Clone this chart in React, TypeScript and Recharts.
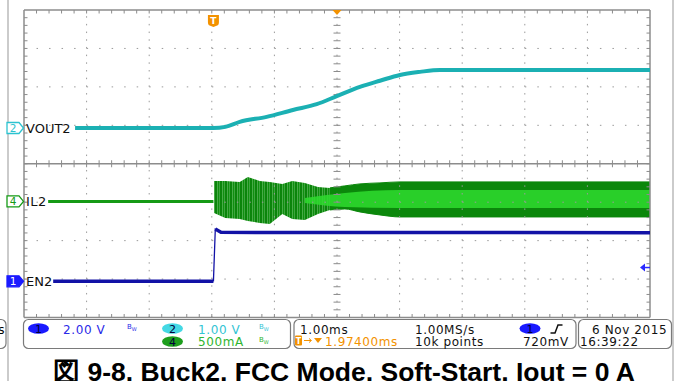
import React from 'react';
import { ComposedChart, Line, Area, XAxis, YAxis, ReferenceLine, ReferenceDot } from 'recharts';

// Scope timebase: 1 ms/div, 10 divisions, trigger at t = 0, centre at +1.974 ms
const T_START = -3.026;
const T_END = 6.974;
const T_CENTER = 1.974;
const H_DIVS = 10;
const V_DIVS = 8;

// channel ground markers (divisions above bottom edge) and scales (per div)
const CH1_POS = 0.94; // EN2
const CH1_SCALE = 2.0; // V/div
const CH2_POS = 4.93; // VOUT2
const CH2_SCALE = 1.0; // V/div
const CH4_POS = 3.02; // IL2
const CH4_SCALE = 0.5; // A/div
const TRIG_LEVEL = 0.72; // V, ch1

// VOUT2 (V)
const voutTime = [-2.21, 0, 0.19, 0.42, 0.85, 1.27, 1.65, 1.97, 2.34, 2.66, 2.98, 3.3, 3.62, 6.974];
const voutVolts = [0, 0, 0.03, 0.16, 0.29, 0.47, 0.62, 0.83, 1.07, 1.23, 1.38, 1.46, 1.51, 1.51];

// IL2 (A): idle trace, then min/max envelope of the switching ripple
const ilIdleTime = [-2.64, 0];
const ilIdleAmps = [0, 0];
const ilBurstTime = [0.01, 0.19, 0.42, 0.55, 0.74, 0.9, 1.1, 1.26, 1.46, 1.67, 1.86, 2.1];
const ilBurstHigh = [0.267, 0.267, 0.254, 0.319, 0.267, 0.254, 0.228, 0.267, 0.241, 0.189, 0.176, 0.202];
const ilBurstLow = [-0.15, -0.215, -0.228, -0.254, -0.28, -0.293, -0.163, -0.228, -0.241, -0.163, -0.111, -0.098];
const ilBandTime = [1.86, 2.1, 2.34, 2.66, 2.98, 6.974];
const ilBandHigh = [0.176, 0.202, 0.228, 0.241, 0.254, 0.254];
const ilBandLow = [-0.111, -0.098, -0.137, -0.176, -0.202, -0.202];
const ilCoreTime = [1.46, 2.1, 2.98, 6.974];
const ilCoreHigh = [0.046, 0.111, 0.15, 0.15];
const ilCoreLow = [-0.02, -0.072, -0.085, -0.085];

// EN2 (V)
const enLowTime = [-2.56, 0];
const enLowVolts = [0, 0];
const enEdgeTime = [0, 0.03, 0.12];
const enEdgeVolts = [0, 2.72, 2.55];
const enHighTime = [0.03, 0.12, 6.974];
const enHighVolts = [2.72, 2.55, 2.53];

const W = 681;
const H = 381;
const PLOT = { left: 24, top: 10, right: 650, bottom: 317.5 };
const DIV_W = (PLOT.right - PLOT.left) / H_DIVS;
const DIV_H = (PLOT.bottom - PLOT.top) / V_DIVS;
const yPx = (div: number) => PLOT.bottom - div * DIV_H;

const toDivs = (time: number[], vals: number[], pos: number, scale: number) =>
  time.map((t, i) => ({ t, y: pos + vals[i] / scale }));
const toRange = (time: number[], lo: number[], hi: number[], pos: number, scale: number) =>
  time.map((t, i) => ({ t, r: [pos + lo[i] / scale, pos + hi[i] / scale] }));

const voutData = toDivs(voutTime, voutVolts, CH2_POS, CH2_SCALE);
const ilIdleData = toDivs(ilIdleTime, ilIdleAmps, CH4_POS, CH4_SCALE);
const ilBurstData = toRange(ilBurstTime, ilBurstLow, ilBurstHigh, CH4_POS, CH4_SCALE);
const ilBandData = toRange(ilBandTime, ilBandLow, ilBandHigh, CH4_POS, CH4_SCALE);
const ilCoreData = toRange(ilCoreTime, ilCoreLow, ilCoreHigh, CH4_POS, CH4_SCALE);
const enLowData = toDivs(enLowTime, enLowVolts, CH1_POS, CH1_SCALE);
const enEdgeData = toDivs(enEdgeTime, enEdgeVolts, CH1_POS, CH1_SCALE);
const enHighData = toDivs(enHighTime, enHighVolts, CH1_POS, CH1_SCALE);

const GRID = '#9a9a9a';
const FRAME = '#8c8c8c';
const CYAN = '#1bb0b3';
const GREEN_DARK = '#0b870b';
const GREEN_LIGHT = '#2fdc2f';
const NAVY = '#1212a6';
const ORANGE = '#f39200';
const SCOPE_FONT = '"DejaVu Sans", Verdana, sans-serif';

const majorX = Array.from({ length: H_DIVS - 1 }, (_, i) => T_START + i + 1);
const majorY = Array.from({ length: V_DIVS - 1 }, (_, i) => i + 1).filter((d) => d !== 4);
const minorX = Array.from({ length: H_DIVS * 5 - 1 }, (_, i) => T_START + (i + 1) / 5);
const minorY = Array.from({ length: V_DIVS * 5 - 1 }, (_, i) => (i + 1) / 5);
const TICK = 3.5;
const tx = TICK / DIV_W;
const ty = TICK / DIV_H;

function Badge({ y, num, color, filled }: { y: number; num: string; color: string; filled?: boolean }) {
  const pts = `7,${y - 5.5} 19,${y - 5.5} 23.5,${y} 19,${y + 5.5} 7,${y + 5.5}`;
  return (
    <g>
      <polygon points={pts} fill={filled ? color : '#fff'} stroke={color} strokeWidth={1.3} />
      <text x={13} y={y + 3.8} fontSize={10.5} textAnchor="middle" fill={filled ? '#fff' : color} fontFamily={SCOPE_FONT}>
        {num}
      </text>
    </g>
  );
}

function Oval({ x, y, num, fill }: { x: number; y: number; num: string; fill: string }) {
  return (
    <g>
      <ellipse cx={x} cy={y} rx={10.5} ry={5.3} fill={fill} />
      <text x={x} y={y + 4} fontSize={11} textAnchor="middle" fill="#00003a" fontFamily={SCOPE_FONT}>
        {num}
      </text>
    </g>
  );
}

function Bw({ x, y, color }: { x: number; y: number; color: string }) {
  return (
    <text x={x} y={y} fontSize={7} fill={color} fontFamily={SCOPE_FONT}>
      B<tspan fontSize={5} dy={2}>W</tspan>
    </text>
  );
}

function Overlay() {
  const row1 = 333.5;
  const row2 = 346;
  const txt = { fontFamily: SCOPE_FONT, fontSize: 12, letterSpacing: 0.6 } as const;
  return (
    <svg width={W} height={H} style={{ position: 'absolute', left: 0, top: 0, pointerEvents: 'none' }}>
      <line x1={8} y1={0} x2={8} y2={H} stroke="#a8a8a8" strokeWidth={1.2} />
      <line x1={673} y1={0} x2={673} y2={H} stroke="#a8a8a8" strokeWidth={1.2} />

      <Badge y={yPx(CH2_POS)} num="2" color="#2cc3d0" />
      <text x={26} y={yPx(CH2_POS) + 4.7} fontSize={13} fill="#111" fontFamily={SCOPE_FONT}>VOUT2</text>
      <Badge y={yPx(CH4_POS)} num="4" color="#149a14" />
      <text x={26} y={yPx(CH4_POS) + 4.7} fontSize={13} fill="#111" fontFamily={SCOPE_FONT} letterSpacing={0.5}>IL2</text>
      <Badge y={yPx(CH1_POS)} num="1" color="#1a1aff" filled />
      <text x={26} y={yPx(CH1_POS) + 4.7} fontSize={13} fill="#111" fontFamily={SCOPE_FONT}>EN2</text>

      {/* status bar */}
      <rect x={-20} y={319.5} width={26} height={29} rx={5} fill="#fff" stroke="#7a7a7a" strokeWidth={1.2} />
      <text x={5} y={row1 + 0.5} textAnchor="end" {...txt}>s</text>
      <rect x={23.5} y={319.5} width={267} height={29} rx={5} fill="#fff" stroke="#7a7a7a" strokeWidth={1.2} />
      <Oval x={38.5} y={328.5} num="1" fill="#1a1aff" />
      <text x={63} y={row1} fill="#2a2ae8" {...txt}>2.00 V</text>
      <Bw x={127} y={329} color="#2a2ae8" />
      <Oval x={172.5} y={328.5} num="2" fill="#44d8e4" />
      <text x={198} y={row1} fill="#33c4d4" {...txt}>1.00 V</text>
      <Bw x={259} y={329} color="#33c4d4" />
      <Oval x={172.5} y={341.5} num="4" fill="#1d9e1d" />
      <text x={198} y={row2} fill="#2fb52f" {...txt}>500mA</text>
      <Bw x={259} y={342} color="#2fb52f" />

      <rect x={294} y={319.5} width={282} height={29} rx={5} fill="#fff" stroke="#7a7a7a" strokeWidth={1.2} />
      <text x={300} y={row1} fill="#111" {...txt}>1.00ms</text>
      <text x={415} y={row1} fill="#111" {...txt}>1.00MS/s</text>
      <Oval x={530} y={328.5} num="1" fill="#1a1aff" />
      <path d="M550.5,333 L555,333 L558,325 L562.5,325" fill="none" stroke="#111" strokeWidth={1.5} />
      <rect x={295} y={335.5} width={7} height={10} rx={1} fill={ORANGE} />
      <text x={298.5} y={344} fontSize={8} textAnchor="middle" fill="#fff" fontFamily={SCOPE_FONT} fontWeight="bold">T</text>
      <path d="M304,340.5 L311,340.5 M309,338.5 L311.5,340.5 L309,342.5" stroke={ORANGE} strokeWidth={1} fill="none" />
      <polygon points="314,338 322,338 318,343" fill={ORANGE} />
      <text x={325} y={row2} fill={ORANGE} {...txt}>1.97400ms</text>
      <text x={415} y={row2} fill="#111" {...txt}>10k points</text>
      <text x={523} y={row2} fill="#111" {...txt}>720mV</text>

      <rect x={578.5} y={319.5} width={93} height={29} rx={5} fill="#fff" stroke="#7a7a7a" strokeWidth={1.2} />
      <text x={592} y={row1} fill="#111" {...txt}>6 Nov 2015</text>
      <text x={580} y={row2} fill="#111" {...txt}>16:39:22</text>

      <text
        x={344}
        y={381}
        textAnchor="middle"
        fontSize={26.5}
        fontWeight="bold"
        fill="#000"
        fontFamily='"Liberation Sans", Arial, sans-serif'
      >
        図 9-8. Buck2, FCC Mode, Soft-Start, Iout = 0 A
      </text>
    </svg>
  );
}

const TrigMarker = ({ cx, cy }: { cx: number; cy: number }) => (
  <g>
    <path
      d={`M${cx - 5.5},${cy + 5} h11 v7.5 q0,3 -3,3.5 l-2.5,1 l-2.5,-1 q-3,-0.5 -3,-3.5 z`}
      fill={ORANGE}
    />
    <text x={cx} y={cy + 14} fontSize={9} textAnchor="middle" fill="#fff" fontWeight="bold" fontFamily={SCOPE_FONT}>
      T
    </text>
  </g>
);

const CenterMarker = ({ cx, cy }: { cx: number; cy: number }) => (
  <polygon points={`${cx - 4.5},${cy} ${cx + 4.5},${cy} ${cx},${cy + 5}`} fill={ORANGE} />
);

const LevelMarker = ({ cx, cy }: { cx: number; cy: number }) => (
  <g>
    <polygon points={`${cx - 10},${cy} ${cx - 5},${cy - 4} ${cx - 5},${cy + 4}`} fill="#2a2aff" />
    <line x1={cx - 6} y1={cy} x2={cx} y2={cy} stroke="#2a2aff" strokeWidth={1.5} />
  </g>
);

export default function App() {
  return (
    <div style={{ position: 'absolute', left: 0, top: 0, width: W, height: H, overflow: 'hidden', background: '#fff' }}>
      <ComposedChart
        width={W}
        height={H}
        margin={{ top: PLOT.top, left: PLOT.left, right: W - PLOT.right, bottom: H - PLOT.bottom }}
      >
        <defs>
          <pattern id="burst" patternUnits="userSpaceOnUse" width={5} height={10}>
            <rect x={0} y={0} width={5} height={10} fill="#48aa48" />
            <rect x={0} y={0} width={2} height={10} fill="#0b840b" />
            <rect x={3} y={0} width={1.2} height={10} fill="#0f8f0f" />
          </pattern>
        </defs>
        <XAxis dataKey="t" type="number" domain={[T_START, T_END]} allowDataOverflow hide />
        <YAxis type="number" domain={[0, V_DIVS]} allowDataOverflow hide />

        {/* graticule */}
        {majorX.map((t) => (
          <ReferenceLine key={`gx${t}`} x={t} stroke={GRID} strokeDasharray={`1.5 ${DIV_H / 5 - 1.5}`} />
        ))}
        {majorY.map((d) => (
          <ReferenceLine key={`gy${d}`} y={d} stroke={GRID} strokeDasharray={`1.5 ${DIV_W / 5 - 1.5}`} />
        ))}
        <ReferenceLine y={4} stroke={FRAME} strokeWidth={1.3} />
        <ReferenceLine y={0} stroke={FRAME} strokeWidth={1.5} />
        <ReferenceLine y={V_DIVS} stroke={FRAME} strokeWidth={1.5} />
        <ReferenceLine x={T_START} stroke={FRAME} strokeWidth={1.5} />
        <ReferenceLine x={T_END} stroke={FRAME} strokeWidth={1.5} />
        {minorX.map((t) => [
          <ReferenceLine key={`tt${t}`} segment={[{ x: t, y: V_DIVS }, { x: t, y: V_DIVS - ty }]} stroke={FRAME} />,
          <ReferenceLine key={`tb${t}`} segment={[{ x: t, y: 0 }, { x: t, y: ty }]} stroke={FRAME} />,
          <ReferenceLine key={`tm${t}`} segment={[{ x: t, y: 4 - ty }, { x: t, y: 4 + ty }]} stroke={FRAME} />,
        ])}
        {minorY.map((d) => [
          <ReferenceLine key={`tl${d}`} segment={[{ x: T_START, y: d }, { x: T_START + tx, y: d }]} stroke={FRAME} />,
          <ReferenceLine key={`tr${d}`} segment={[{ x: T_END - tx, y: d }, { x: T_END, y: d }]} stroke={FRAME} />,
          <ReferenceLine key={`tc${d}`} segment={[{ x: T_CENTER - tx, y: d }, { x: T_CENTER + tx, y: d }]} stroke={FRAME} />,
        ])}

        {/* IL2 */}
        <Line data={ilIdleData} dataKey="y" stroke="#159a15" strokeWidth={3} dot={false} isAnimationActive={false} />
        <Area data={ilBurstData} dataKey="r" type="linear" stroke="none" fill="url(#burst)" fillOpacity={1} isAnimationActive={false} />
        <Area data={ilBandData} dataKey="r" type="monotone" stroke={GREEN_DARK} strokeWidth={1} fill={GREEN_DARK} fillOpacity={1} isAnimationActive={false} />
        <Area data={ilCoreData} dataKey="r" type="monotone" stroke="none" fill={GREEN_LIGHT} fillOpacity={0.85} isAnimationActive={false} />

        {/* EN2 */}
        <Line data={enEdgeData} dataKey="y" type="linear" stroke={NAVY} strokeWidth={1.3} dot={false} isAnimationActive={false} />
        <Line data={enLowData} dataKey="y" type="linear" stroke={NAVY} strokeWidth={3.5} dot={false} isAnimationActive={false} />
        <Line data={enHighData} dataKey="y" type="linear" stroke={NAVY} strokeWidth={3.5} dot={false} isAnimationActive={false} />

        {/* VOUT2 */}
        <Line data={voutData} dataKey="y" type="monotone" stroke={CYAN} strokeWidth={4} dot={false} isAnimationActive={false} />

        <ReferenceDot x={0} y={V_DIVS} ifOverflow="visible" shape={TrigMarker} />
        <ReferenceDot x={T_CENTER} y={V_DIVS} ifOverflow="visible" shape={CenterMarker} />
        <ReferenceDot x={T_END} y={CH1_POS + TRIG_LEVEL / CH1_SCALE} ifOverflow="visible" shape={LevelMarker} />
      </ComposedChart>
      <Overlay />
    </div>
  );
}
